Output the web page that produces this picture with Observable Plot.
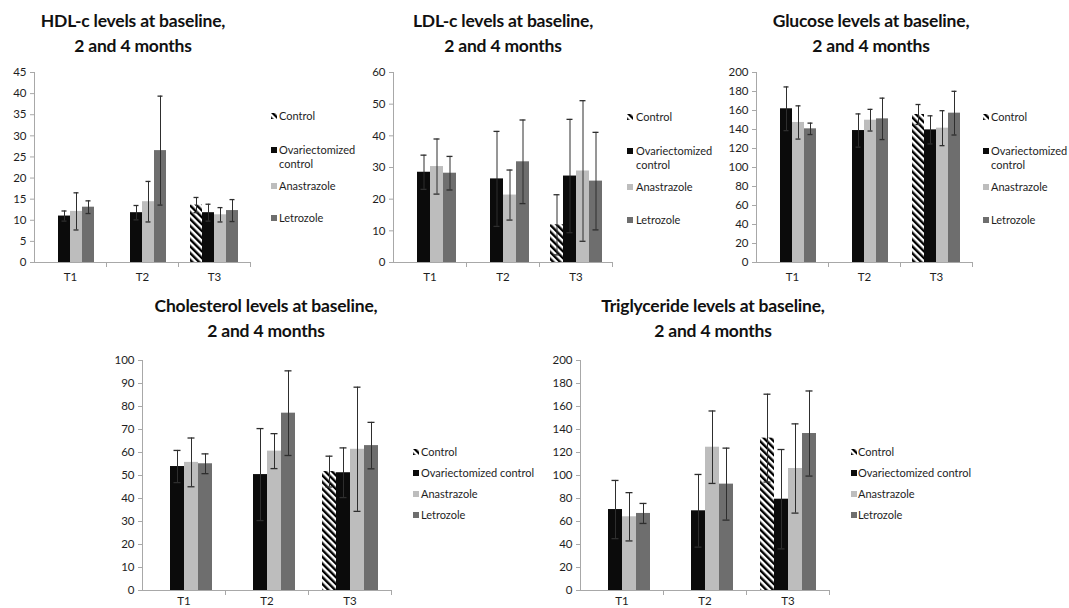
<!DOCTYPE html>
<html>
<head>
<meta charset="utf-8">
<script src="https://cdn.jsdelivr.net/npm/d3@7"></script>
<script src="https://cdn.jsdelivr.net/npm/@observablehq/plot@0.6"></script>
<style>
  html, body { margin: 0; padding: 0; background: #fff; }
  #page { position: relative; width: 1069px; height: 608px; overflow: hidden; background: #fff; font-family: Lato, "Open Sans", sans-serif; color: #1e1e1e; }
  .title { position: absolute; width: 320px; text-align: center; font-weight: 700; font-size: 17.5px; line-height: 25px; color: #111; letter-spacing: -0.2px; }
  .leg { position: absolute; font-size: 11px; line-height: 14px; color: #1e1e1e; white-space: nowrap; }
  .sw { position: absolute; width: 6px; height: 6px; }
  svg.plotsvg { position: absolute; overflow: visible; }
</style>
</head>
<body>
<svg width="0" height="0" style="position:absolute">
  <defs>
    <pattern id="hatch" patternUnits="userSpaceOnUse" width="4.8" height="4.8" patternTransform="rotate(-45)">
      <rect x="0" y="0" width="2.4" height="4.8" fill="#000"></rect>
    </pattern>
  </defs>
</svg>
<div id="page"></div>
<script>
// ---------- data ----------
const periods = ["T1", "T2", "T3"];
const groups = ["Control", "Ovariectomized control", "Anastrazole", "Letrozole"];
const groupFills = ["url(#hatch)", "#0b0b0b", "#bdbdbd", "#6e6e6e"];

// rows: Control, Ovariectomized control, Anastrazole, Letrozole; columns: T1, T2, T3
const hdlMean = [[null, null, 13.6], [11.0, 11.8, 11.8], [12.1, 14.4, 11.3], [13.1, 26.5, 12.3]];
const hdlSd   = [[null, null, 1.8],  [1.2, 1.7, 2.0],    [4.4, 4.8, 1.7],    [1.5, 12.9, 2.6]];
const hdlTicks = [0, 5, 10, 15, 20, 25, 30, 35, 40, 45];

const ldlMean = [[null, null, 11.9], [28.5, 26.4, 27.3], [30.3, 21.3, 28.9], [28.2, 31.8, 25.7]];
const ldlSd   = [[null, null, 9.5],  [5.4, 15.0, 17.9],  [8.7, 7.9, 22.2],   [5.3, 13.2, 15.4]];
const ldlTicks = [0, 10, 20, 30, 40, 50, 60];

const gluMean = [[null, null, 155.8], [161.8, 138.9, 139.6], [147.4, 149.8, 141.4], [140.7, 151.2, 157.2]];
const gluSd   = [[null, null, 10.5],  [23.0, 17.5, 14.8],    [17.5, 11.4, 18.4],    [6.0, 21.8, 23.0]];
const gluTicks = [0, 20, 40, 60, 80, 100, 120, 140, 160, 180, 200];

const cholMean = [[null, null, 51.7], [53.9, 50.4, 51.2], [55.7, 60.6, 61.4], [55.1, 77.1, 63.0]];
const cholSd   = [[null, null, 6.7],  [7.0, 20.0, 10.8],  [10.6, 7.6, 27.0],  [4.3, 18.4, 10.1]];
const cholTicks = [0, 10, 20, 30, 40, 50, 60, 70, 80, 90, 100];

const trigMean = [[null, null, 132.5], [70.4, 69.3, 79.4], [64.1, 124.6, 106.1], [67.0, 92.5, 136.5]];
const trigSd   = [[null, null, 38.2],  [25.3, 31.6, 43.2], [21.0, 31.5, 38.8],   [8.7, 31.3, 37.0]];
const trigTicks = [0, 20, 40, 60, 80, 100, 120, 140, 160, 180, 200];

const titles = [
  ["HDL-c levels at baseline,", "2 and 4 months"],
  ["LDL-c levels at baseline,", "2 and 4 months"],
  ["Glucose levels at baseline,", "2 and 4 months"],
  ["Cholesterol levels at baseline,", "2 and 4 months"],
  ["Triglyceride levels at baseline,", "2 and 4 months"]
];

// ---------- layout ----------
const page = document.getElementById("page");
const ML = 36, MR = 8, MT = 8, MB = 28;

const panels = [
  {mean: hdlMean, sd: hdlSd, ticks: hdlTicks, x0: 33, x1: 250, y0: 72, y1: 262, title: titles[0], tcx: 133, ty: 8, pad: 10,
   legend: {sx: 271, tx: 279, ys: [116, 150, 186, 218], wrap: true}},
  {mean: ldlMean, sd: ldlSd, ticks: ldlTicks, x0: 392, x1: 613, y0: 72, y1: 262, title: titles[1], tcx: 503, ty: 8, pad: 10,
   legend: {sx: 627, tx: 636, ys: [117, 151, 187, 220], wrap: true}},
  {mean: gluMean, sd: gluSd, ticks: gluTicks, x0: 755, x1: 973, y0: 72, y1: 262, title: titles[2], tcx: 871, ty: 8, pad: 10,
   legend: {sx: 983, tx: 991, ys: [117, 151, 187, 220], wrap: true}},
  {mean: cholMean, sd: cholSd, ticks: cholTicks, x0: 142, x1: 391, y0: 360, y1: 590, title: titles[3], tcx: 266, ty: 293, pad: 6,
   legend: {sx: 413, tx: 421, ys: [452, 473, 494, 515], wrap: false}},
  {mean: trigMean, sd: trigSd, ticks: trigTicks, x0: 580, x1: 829, y0: 360, y1: 590, title: titles[4], tcx: 713, ty: 293, pad: 6,
   legend: {sx: 851, tx: 858, ys: [452, 473, 494, 515], wrap: false}}
];

function rowsOf(mean, sd) {
  const rows = [];
  groups.forEach((g, gi) => periods.forEach((p, pi) => {
    const m = mean[gi][pi];
    if (m != null) rows.push({period: p, group: g, mean: m, lo: m - sd[gi][pi], hi: m + sd[gi][pi]});
  }));
  return rows;
}

panels.forEach(cfg => {
  const rows = rowsOf(cfg.mean, cfg.sd);
  const innerW = cfg.x1 - cfg.x0, innerH = cfg.y1 - cfg.y0;
  const ymax = cfg.ticks[cfg.ticks.length - 1];
  const svg = Plot.plot({
    width: innerW + ML + MR,
    height: innerH + MT + MB,
    marginLeft: ML, marginRight: MR, marginTop: MT, marginBottom: MB,
    style: {fontFamily: "Lato, 'Open Sans', sans-serif", fontSize: "11.5px", color: "#1e1e1e", background: "transparent", overflow: "visible"},
    fx: {domain: periods, padding: 0, axis: null},
    x: {domain: groups, paddingInner: 0, paddingOuter: 0.8, axis: null},
    y: {domain: [0, ymax], axis: null},
    color: {domain: groups, range: groupFills},
    marks: [
      Plot.barY(rows, {fx: "period", x: "group", y: "mean", fill: "group"}),
      Plot.ruleX(rows, {fx: "period", x: "group", y1: "lo", y2: "hi", stroke: "#2e2e2e", strokeWidth: 1}),
      Plot.tickY(rows, {fx: "period", x: "group", y: "hi", stroke: "#2e2e2e", strokeWidth: 1.3, insetLeft: 3.5, insetRight: 3.5}),
      Plot.tickY(rows, {fx: "period", x: "group", y: "lo", stroke: "#2e2e2e", strokeWidth: 1.3, insetLeft: 3.5, insetRight: 3.5}),
      Plot.ruleY([0], {stroke: "#a8a8a8"}),
      Plot.frame({anchor: "right", stroke: "#a8a8a8", insetTop: innerH, insetBottom: -4}),
      Plot.frame({anchor: "left", stroke: "#a8a8a8", facetAnchor: "left"}),
      Plot.axisY({ticks: cfg.ticks, tickSize: 4, tickPadding: 4, stroke: "#a8a8a8", label: null, fontSize: 11.5}),
      Plot.axisFx({anchor: "bottom", tickSize: 0, tickPadding: cfg.pad, label: null, fontSize: 11.5})
    ]
  });
  svg.classList.add("plotsvg");
  svg.style.left = (cfg.x0 - ML) + "px";
  svg.style.top = (cfg.y0 - MT) + "px";
  page.appendChild(svg);

  // title
  const t = document.createElement("div");
  t.className = "title";
  t.style.left = (cfg.tcx - 160) + "px";
  t.style.top = cfg.ty + "px";
  t.innerHTML = cfg.title[0] + "<br>" + cfg.title[1];
  page.appendChild(t);

  // legend
  const L = cfg.legend;
  groups.forEach((g, gi) => {
    const yc = L.ys[gi];
    const sw = document.createElementNS("http://www.w3.org/2000/svg", "svg");
    sw.setAttribute("width", 6); sw.setAttribute("height", 6);
    sw.setAttribute("class", "sw");
    sw.style.left = L.sx + "px"; sw.style.top = (yc - 3) + "px";
    const r = document.createElementNS("http://www.w3.org/2000/svg", "rect");
    r.setAttribute("width", 6); r.setAttribute("height", 6);
    r.setAttribute("fill", groupFills[gi]);
    sw.appendChild(r);
    page.appendChild(sw);
    const d = document.createElement("div");
    d.className = "leg";
    d.style.left = L.tx + "px";
    d.style.top = (yc - 7) + "px";
    if (L.wrap && g === "Ovariectomized control") d.innerHTML = "Ovariectomized<br>control";
    else d.textContent = g;
    page.appendChild(d);
  });
});
</script>
</body>
</html>
